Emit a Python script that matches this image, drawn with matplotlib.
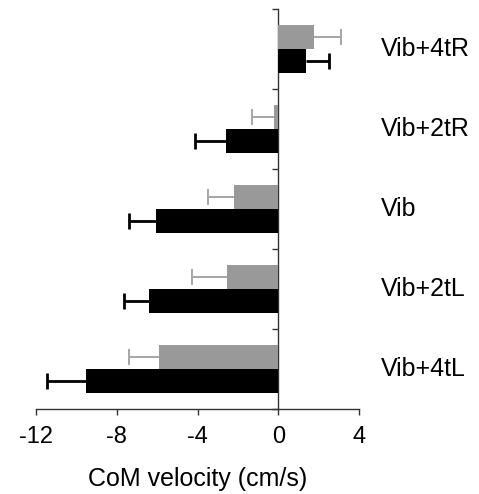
import matplotlib
matplotlib.use("Agg")
import matplotlib.pyplot as plt
import matplotlib.transforms as mtransforms
import numpy as np

plt.rcParams['font.family'] = ['Liberation Sans', 'DejaVu Sans']

# Data (bottom to top)
categories = ["Vib+4tL", "Vib+2tL", "Vib", "Vib+2tR", "Vib+4tR"]
gray_vals = [-5.9, -2.55, -2.2, -0.2, 1.75]
gray_err = [1.5, 1.7, 1.3, 1.1, 1.35]
black_vals = [-9.5, -6.4, -6.05, -2.6, 1.35]
black_err = [1.95, 1.25, 1.35, 1.5, 1.15]
xticks = [-12, -8, -4, 0, 4]

fig = plt.figure(figsize=(4.79, 4.94), dpi=100)
ax = fig.add_axes([36/479, 1 - 409/494, 323/479, 400/494])

y = np.arange(len(categories))
off = 0.15
h = 0.3
cap = 0.1

bar_gray = "#999999"
err_gray = "#a6a6a6"
spine_col = "#333333"

ax.barh(y + off, gray_vals, height=h, color=bar_gray, zorder=3)
ax.barh(y - off, black_vals, height=h, color="black", zorder=3)

for vals, errs, yy, col, lw in [(gray_vals, gray_err, y + off, err_gray, 1.4),
                                (black_vals, black_err, y - off, "black", 2.0)]:
    vals = np.array(vals)
    errs = np.array(errs)
    tips = vals + np.sign(vals) * errs
    ax.hlines(yy, vals, tips, colors=col, lw=lw, zorder=2)
    ax.vlines(tips, yy - cap, yy + cap, colors=col, lw=lw, zorder=2)

ax.set_xlim(-12, 4)
ax.set_ylim(-0.5, 4.5)
ax.set_xticks(xticks)
ax.set_xticklabels([str(t) for t in xticks])
ax.set_yticks(np.arange(-0.5, 5.0, 1.0))
ax.set_yticklabels([])

ax.spines['left'].set_position(('data', 0))
ax.spines['top'].set_visible(False)
ax.spines['right'].set_visible(False)
for s in ['left', 'bottom']:
    ax.spines[s].set_color(spine_col)
    ax.spines[s].set_linewidth(1.0)

ax.tick_params(axis='x', direction='out', length=4, width=1.0, color=spine_col,
               labelsize=17, pad=8)
ax.tick_params(axis='y', direction='out', length=4, width=1.0, color=spine_col)

ax.set_xlabel("CoM velocity (cm/s)", fontsize=18, labelpad=14)

trans = mtransforms.blended_transform_factory(ax.transAxes, ax.transData)
for yi, lab in zip(y, categories):
    ax.text(1.068, yi, lab, transform=trans, ha='left', va='center', fontsize=18)

fig.savefig("out.png", dpi=100)
